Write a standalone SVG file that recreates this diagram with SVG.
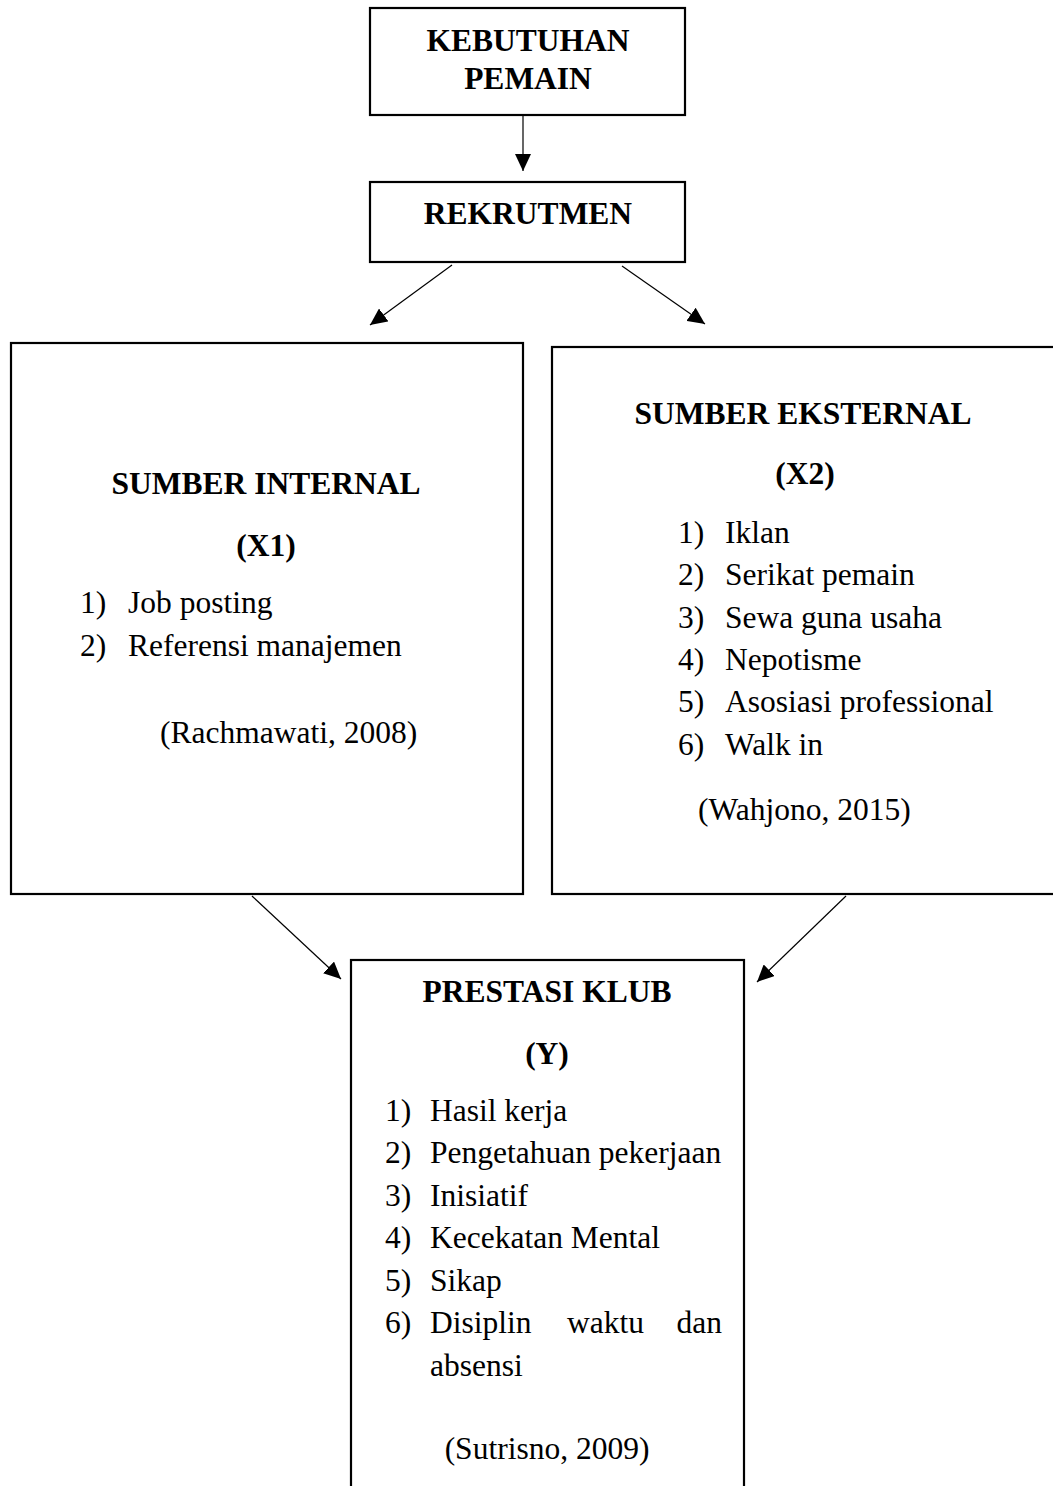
<svg xmlns="http://www.w3.org/2000/svg" width="1053" height="1486" viewBox="0 0 1053 1486">
<style>
.box{fill:#fff;stroke:#000;stroke-width:2.2}
.t{font-family:"Liberation Serif","Times New Roman",serif;font-size:31.5px;fill:#000}
.b{font-weight:bold}
.c{text-anchor:middle}
.e{text-anchor:end}
.conn line{stroke:#000;stroke-width:1.2}
</style>
<defs>
<marker id="ah" viewBox="0 0 17 16" refX="17" refY="8" markerWidth="17" markerHeight="16" markerUnits="userSpaceOnUse" orient="auto">
<path d="M0,0 L17,8 L0,16 Z" fill="#000"/>
</marker>
</defs>
<rect width="1053" height="1486" fill="#fff"/>
<g class="conn">
<line x1="523" y1="115" x2="523" y2="171" marker-end="url(#ah)"/>
<line x1="452" y1="265" x2="370" y2="325" marker-end="url(#ah)"/>
<line x1="622" y1="266" x2="705" y2="324" marker-end="url(#ah)"/>
<line x1="252" y1="896" x2="341" y2="979" marker-end="url(#ah)"/>
<line x1="846" y1="896" x2="757" y2="982" marker-end="url(#ah)"/>
</g>
<g id="kebutuhan">
<rect class="box" x="370" y="8" width="315" height="107"/>
<text class="t b c" x="528" y="51">KEBUTUHAN</text>
<text class="t b c" x="528" y="89">PEMAIN</text>
</g>
<g id="rekrutmen">
<rect class="box" x="370" y="182" width="315" height="80"/>
<text class="t b c" x="528" y="224">REKRUTMEN</text>
</g>
<g id="internal">
<rect class="box" x="11" y="343" width="512" height="551"/>
<text class="t b c" x="266" y="494">SUMBER INTERNAL</text>
<text class="t b c" x="266" y="556">(X1)</text>
<text class="t" x="80" y="613">1)</text><text class="t" x="128" y="613">Job posting</text>
<text class="t" x="80" y="656">2)</text><text class="t" x="128" y="656">Referensi manajemen</text>
<text class="t" x="160" y="743">(Rachmawati, 2008)</text>
</g>
<g id="eksternal">
<rect class="box" x="552" y="347" width="510" height="547"/>
<text class="t b c" x="803" y="424">SUMBER EKSTERNAL</text>
<text class="t b c" x="805" y="484">(X2)</text>
<text class="t" x="678" y="543">1)</text><text class="t" x="725" y="543">Iklan</text>
<text class="t" x="678" y="585">2)</text><text class="t" x="725" y="585">Serikat pemain</text>
<text class="t" x="678" y="628">3)</text><text class="t" x="725" y="628">Sewa guna usaha</text>
<text class="t" x="678" y="670">4)</text><text class="t" x="725" y="670">Nepotisme</text>
<text class="t" x="678" y="712">5)</text><text class="t" x="725" y="712">Asosiasi professional</text>
<text class="t" x="678" y="755">6)</text><text class="t" x="725" y="755">Walk in</text>
<text class="t" x="698" y="820">(Wahjono, 2015)</text>
</g>
<g id="prestasi">
<rect class="box" x="351" y="960" width="393" height="542"/>
<text class="t b c" x="547" y="1002">PRESTASI KLUB</text>
<text class="t b c" x="547" y="1064">(Y)</text>
<text class="t" x="385" y="1121">1)</text><text class="t" x="430" y="1121">Hasil kerja</text>
<text class="t" x="385" y="1163">2)</text><text class="t" x="430" y="1163">Pengetahuan pekerjaan</text>
<text class="t" x="385" y="1206">3)</text><text class="t" x="430" y="1206">Inisiatif</text>
<text class="t" x="385" y="1248">4)</text><text class="t" x="430" y="1248">Kecekatan Mental</text>
<text class="t" x="385" y="1291">5)</text><text class="t" x="430" y="1291">Sikap</text>
<text class="t" x="385" y="1333">6)</text><text class="t" x="430" y="1333">Disiplin</text><text class="t" x="567" y="1333">waktu</text><text class="t e" x="722" y="1333">dan</text>
<text class="t" x="430" y="1376">absensi</text>
<text class="t c" x="547" y="1459">(Sutrisno, 2009)</text>
</g>
</svg>
